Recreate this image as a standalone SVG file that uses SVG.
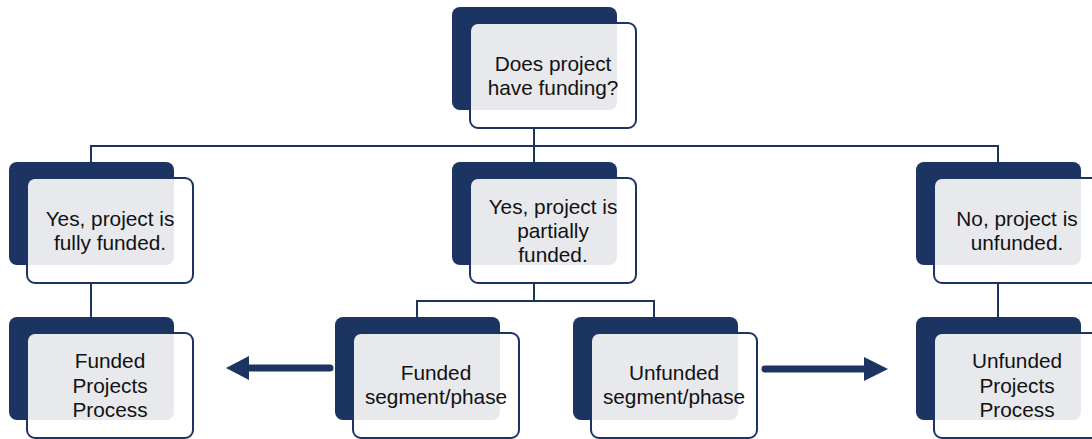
<svg xmlns="http://www.w3.org/2000/svg" width="1092" height="439" viewBox="0 0 1092 439">
<style>
.back{fill:#1c3461}
.grey{fill:#e8e9ed}
.front{fill:none;stroke:#1c3461;stroke-width:2}
.lbl{font-family:"Liberation Sans",Arial,sans-serif;font-size:20.8px;fill:#111;text-anchor:middle}
.conn{fill:none;stroke:#1c3461;stroke-width:2}
.faint{fill:none;stroke:#d6d9e2;stroke-width:2}
.arrow{fill:none;stroke:#1c3461;stroke-width:7;stroke-linecap:round}
.head{fill:#1c3461}
</style>
<defs>
<g id="box">
<rect class="back" x="0" y="0" width="165" height="103" rx="8"/>
<rect x="18" y="16" width="166" height="105" rx="8" fill="#ffffff"/>
<path class="grey" d="M18,24 A8,8 0 0 1 26,16 L165,16 L165,95 A8,8 0 0 1 157,103 L18,103 Z"/>
<rect class="front" x="18" y="16" width="166" height="105" rx="8"/>
</g>
</defs>
<g id="connectors">
<path class="faint" d="M534,111 V128 M91,266 V283 M534,266 V283 M998,266 V283"/>
<path class="conn" d="M534,129 V162 M91,162 V146 H998 V162"/>
<path class="conn" d="M91,284 V317 M998,284 V317"/>
<path class="conn" d="M534,284 V301 M417,317 V301 H654 V317"/>
<line class="arrow" x1="330" y1="368" x2="246" y2="368"/>
<polygon class="head" points="226,368 249,356 249,380"/>
<line class="arrow" x1="765" y1="369" x2="866" y2="369"/>
<polygon class="head" points="888,369 864,357 864,381"/>
</g>
<g id="n-question" transform="translate(452,7)">
<use href="#box"/>
<text class="lbl" x="101" y="64">Does project</text>
<text class="lbl" x="101" y="88">have funding?</text>
</g>
<g id="n-fully" transform="translate(9,162)">
<use href="#box"/>
<text class="lbl" x="101" y="64">Yes, project is</text>
<text class="lbl" x="101" y="88">fully funded.</text>
</g>
<g id="n-partial" transform="translate(452,162)">
<use href="#box"/>
<text class="lbl" x="101" y="52">Yes, project is</text>
<text class="lbl" x="101" y="76">partially</text>
<text class="lbl" x="101" y="100">funded.</text>
</g>
<g id="n-unfunded" transform="translate(916,162)">
<use href="#box"/>
<text class="lbl" x="101" y="64">No, project is</text>
<text class="lbl" x="101" y="88">unfunded.</text>
</g>
<g id="n-funded-process" transform="translate(9,317)">
<use href="#box"/>
<text class="lbl" x="101" y="51">Funded</text>
<text class="lbl" x="101" y="76">Projects</text>
<text class="lbl" x="101" y="100">Process</text>
</g>
<g id="n-funded-seg" transform="translate(335,317)">
<use href="#box"/>
<text class="lbl" x="101" y="63">Funded</text>
<text class="lbl" x="101" y="87">segment/phase</text>
</g>
<g id="n-unfunded-seg" transform="translate(573,317)">
<use href="#box"/>
<text class="lbl" x="101" y="63">Unfunded</text>
<text class="lbl" x="101" y="87">segment/phase</text>
</g>
<g id="n-unfunded-process" transform="translate(916,317)">
<use href="#box"/>
<text class="lbl" x="101" y="51">Unfunded</text>
<text class="lbl" x="101" y="76">Projects</text>
<text class="lbl" x="101" y="100">Process</text>
</g>
</svg>
